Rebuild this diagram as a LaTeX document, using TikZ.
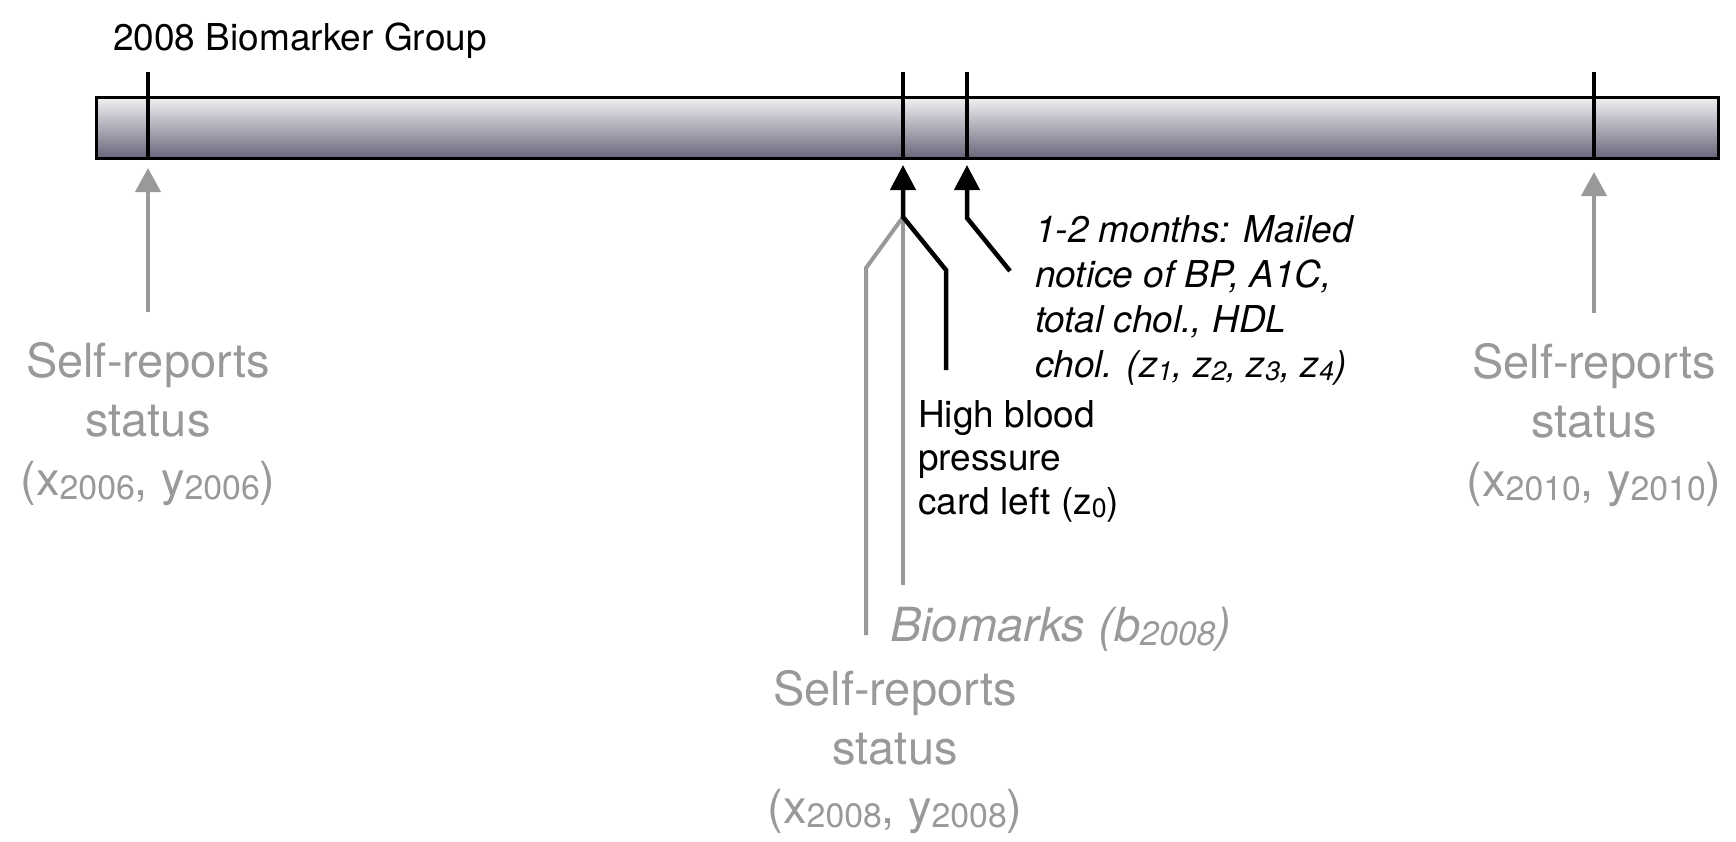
\documentclass[tikz,border=0pt]{standalone}
\usepackage{fontspec}
\setmainfont{TeX Gyre Heros}
\usetikzlibrary{arrows.meta}

\definecolor{markgray}{RGB}{153,153,153}
\definecolor{bartop}{RGB}{242,242,244}
\definecolor{barbottom}{RGB}{104,103,122}

% index set slightly below the baseline, as in the labels
\newcommand{\lowidx}[1]{\raisebox{-0.09em}{\scalebox{0.72}{#1}}}

\tikzset{
  smalltext/.style={inner sep=0pt, font=\fontsize{37}{43.5}\selectfont},
  notetext/.style={inner sep=0pt, font=\fontsize{37}{45}\selectfont\itshape},
  bigtext/.style={inner sep=0pt, text=markgray, font=\fontsize{47}{59}\selectfont},
  tickline/.style={line width=4.5pt, black},
  grayline/.style={line width=4pt, markgray},
  blackline/.style={line width=4.5pt, black},
  grayarrow/.style={grayline, -{Triangle[width=25pt,length=24pt]}},
  blackarrow/.style={blackline, -{Triangle[width=25pt,length=25pt]}},
}

\begin{document}
\begin{tikzpicture}[x=1pt, y=-1pt]
  \useasboundingbox (0,0) rectangle (1736,841);

  % title
  \node[smalltext, anchor=base west] (title) at (113,50) {2008 Biomarker Group};

  % time bar
  \node[draw, line width=3pt, top color=bartop, bottom color=barbottom,
        minimum width=1622pt, minimum height=61pt, inner sep=0pt] (bar) at (907,127.5) {};

  % tick marks
  \coordinate (t06top) at (148,72);   \coordinate (t06bot) at (148,158);
  \coordinate (t08top) at (903,72);   \coordinate (t08bot) at (903,158);
  \coordinate (tmltop) at (967,72);   \coordinate (tmlbot) at (967,158);
  \coordinate (t10top) at (1594,72);  \coordinate (t10bot) at (1594,158);
  \foreach \t in {t06,t08,tml,t10} \draw[tickline] (\t top) -- (\t bot);

  % 2006 self-reports
  \node[bigtext, anchor=base] (sr06) at (148,377)
    {\begin{tabular}[t]{@{}c@{}}Self-reports\\status\\(x\lowidx{2006}, y\lowidx{2006})\end{tabular}};
  \coordinate (sr06arr) at (148,312);
  \coordinate (sr06tip) at (148,168);
  \draw[grayarrow] (sr06arr) -- (sr06tip);

  % 2010 self-reports
  \node[bigtext, anchor=base] (sr10) at (1594,378)
    {\begin{tabular}[t]{@{}c@{}}Self-reports\\status\\(x\lowidx{2010}, y\lowidx{2010})\end{tabular}};
  \coordinate (sr10arr) at (1594,313);
  \coordinate (sr10tip) at (1594,172);
  \draw[grayarrow] (sr10arr) -- (sr10tip);

  % 2008 visit: biomarks and self-reports feed into the visit arrow
  \coordinate (fork) at (903,217);
  \coordinate (visittip) at (903,165);
  \coordinate (bioend) at (903,585);
  \coordinate (srknee) at (866,268);
  \coordinate (srend) at (866,635);
  \draw[grayline] (bioend) -- (fork);
  \draw[grayline] (srend) -- (srknee) -- (fork);

  \node[bigtext, anchor=base west, font=\fontsize{47}{59}\selectfont\itshape] (bio) at (890,641)
    {Biomarks (b\lowidx{2008})};
  \node[bigtext, anchor=base] (sr08) at (895,705)
    {\begin{tabular}[t]{@{}c@{}}Self-reports\\status\\(x\lowidx{2008}, y\lowidx{2008})\end{tabular}};

  % blood pressure card
  \coordinate (bpend) at (946,370);
  \coordinate (bpknee) at (946,270);
  \draw[blackarrow] (bpend) -- (bpknee) -- (fork) -- (visittip);
  \node[smalltext, anchor=base west] (bp) at (918,427)
    {\begin{tabular}[t]{@{}l@{}}High blood\\pressure\\card left (z\lowidx{0})\end{tabular}};

  % mailed notice
  \coordinate (mailend) at (1010,271);
  \coordinate (mailknee) at (967,218);
  \coordinate (mailtip) at (967,165);
  \draw[blackarrow] (mailend) -- (mailknee) -- (mailtip);
  \node[notetext, anchor=base west] (mail) at (1035,242)
    {\begin{tabular}[t]{@{}l@{}}1-2 months: Mailed\\notice of BP, A1C,\\total chol., HDL\\chol. (z\lowidx{1}, z\lowidx{2}, z\lowidx{3}, z\lowidx{4})\end{tabular}};
\end{tikzpicture}
\end{document}
